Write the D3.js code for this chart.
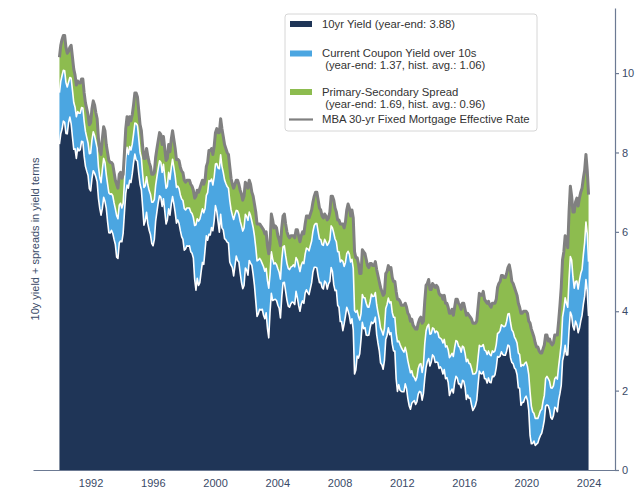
<!DOCTYPE html>
<html><head><meta charset="utf-8">
<script src="https://cdn.jsdelivr.net/npm/d3@7"></script>
<style>
body{margin:0;background:#fff}
svg{display:block}
text{font-family:"Liberation Sans",Arial,Helvetica,sans-serif}
</style>
</head><body>
<svg id="chart" width="640" height="498"></svg>
<script>
// ---- data (monthly, Jan 1990 .. Dec 2023) ----
const startYear = 1990, endYear = 2024;
const tenYear = [
8.21,8.47,8.59,8.79,8.76,8.48,8.47,8.75,8.89,8.72,8.39,8.08,
8.09,7.85,8.11,8.04,8.07,8.28,8.27,7.90,7.65,7.53,7.42,7.09,
7.03,7.34,7.54,7.48,7.39,7.26,6.84,6.59,6.42,6.59,6.87,6.77,
6.60,6.26,5.98,5.97,6.04,5.96,5.81,5.68,5.36,5.33,5.72,5.77,
5.75,5.97,6.48,6.97,7.18,7.10,7.30,7.24,7.46,7.74,7.96,7.81,
7.78,7.47,7.20,7.06,6.63,6.17,6.28,6.49,6.20,6.04,5.93,5.71,
5.65,5.81,6.27,6.51,6.74,6.91,6.87,6.64,6.83,6.53,6.20,6.30,
6.58,6.42,6.69,6.89,6.71,6.49,6.22,6.30,6.21,6.03,5.88,5.81,
5.54,5.57,5.65,5.64,5.65,5.50,5.46,5.34,4.81,4.53,4.83,4.65,
4.72,5.00,5.23,5.18,5.54,5.90,5.79,5.94,5.92,6.11,6.03,6.28,
6.66,6.52,6.26,5.99,6.44,6.10,6.05,5.83,5.80,5.74,5.72,5.24,
5.16,5.10,4.89,5.14,5.39,5.28,5.24,4.97,4.73,4.57,4.65,5.09,
5.04,4.91,5.28,5.21,5.16,4.93,4.65,4.26,3.87,3.94,4.05,4.03,
4.05,3.90,3.81,3.96,3.57,3.33,3.98,4.45,4.27,4.29,4.30,4.27,
4.15,4.08,3.83,4.35,4.72,4.73,4.50,4.28,4.13,4.10,4.19,4.23,
4.22,4.17,4.50,4.34,4.14,4.00,4.18,4.26,4.20,4.46,4.54,4.47,
4.42,4.57,4.72,4.99,5.11,5.11,5.09,4.88,4.72,4.73,4.60,4.56,
4.76,4.72,4.56,4.69,4.75,5.10,5.00,4.67,4.52,4.53,4.15,4.10,
3.74,3.74,3.51,3.68,3.88,4.10,4.01,3.89,3.69,3.81,3.53,2.42,
2.52,2.87,2.82,2.93,3.29,3.72,3.56,3.59,3.40,3.39,3.40,3.59,
3.73,3.69,3.73,3.85,3.42,3.20,3.01,2.70,2.65,2.54,2.76,3.29,
3.39,3.58,3.41,3.46,3.17,3.00,3.00,2.30,1.98,2.15,2.01,1.98,
1.97,1.97,2.17,2.05,1.80,1.62,1.53,1.68,1.72,1.75,1.65,1.72,
1.91,1.98,1.96,1.76,1.93,2.30,2.58,2.74,2.81,2.62,2.72,2.90,
2.86,2.71,2.72,2.71,2.56,2.60,2.54,2.42,2.53,2.30,2.33,2.21,
1.88,1.98,2.04,1.94,2.20,2.36,2.32,2.17,2.17,2.07,2.26,2.24,
2.09,1.78,1.89,1.81,1.81,1.64,1.50,1.56,1.63,1.76,2.14,2.49,
2.43,2.42,2.48,2.30,2.30,2.19,2.32,2.21,2.20,2.36,2.35,2.40,
2.58,2.86,2.84,2.87,2.98,2.91,2.89,2.89,3.00,3.15,3.12,2.83,
2.71,2.68,2.57,2.53,2.40,2.07,2.06,1.63,1.70,1.71,1.81,1.86,
1.76,1.50,0.87,0.66,0.67,0.73,0.62,0.65,0.68,0.79,0.87,0.93,
1.08,1.26,1.61,1.64,1.62,1.52,1.32,1.28,1.37,1.58,1.56,1.47,
1.76,1.93,2.13,2.75,2.90,3.14,2.90,2.90,3.52,3.98,3.89,3.62,
3.53,3.75,3.66,3.46,3.57,3.75,3.90,4.17,4.38,4.80,4.50,3.88
];
const ccSpread = [
1.30,1.32,1.35,1.28,1.30,1.28,1.18,1.02,1.00,1.15,1.18,1.18,
1.05,1.05,0.92,0.95,0.92,0.85,0.85,0.88,0.88,0.85,0.82,0.88,
0.95,0.98,0.98,0.95,0.88,0.86,0.80,0.78,0.82,0.98,0.98,0.98,
0.85,0.95,1.00,0.98,0.92,0.95,0.92,0.90,1.05,1.00,0.95,0.95,
0.85,0.75,0.78,0.88,0.95,0.85,0.85,0.82,0.75,0.72,0.78,0.92,
0.90,0.88,0.80,0.80,0.82,0.95,0.88,0.90,0.98,1.00,1.02,1.04,
1.10,1.00,0.90,0.88,0.86,0.88,0.88,0.86,0.87,0.87,0.90,0.85,
0.92,0.90,0.92,0.94,0.92,0.92,0.90,0.85,0.88,0.90,0.95,0.98,
1.05,0.98,0.95,0.96,0.95,1.00,1.00,1.02,1.35,1.65,1.50,1.62,
1.60,1.45,1.35,1.30,1.05,1.02,1.20,1.35,1.35,1.22,1.15,1.10,
1.05,1.20,1.35,1.60,1.50,1.55,1.45,1.48,1.42,1.40,1.38,1.55,
1.40,1.32,1.42,1.30,1.15,1.25,1.20,1.30,1.42,1.45,1.45,1.35,
1.35,1.38,1.22,1.20,1.10,1.18,1.25,1.35,1.40,1.35,1.28,1.25,
1.15,1.22,1.20,1.12,1.20,1.25,0.95,1.05,1.05,0.90,0.92,0.90,
0.92,0.90,0.98,0.95,0.90,0.92,0.90,0.92,0.95,0.95,0.92,0.90,
0.95,0.95,0.85,0.95,1.00,1.00,0.98,0.98,1.00,0.98,1.05,1.10,
1.10,1.08,1.05,1.02,1.05,1.10,1.12,1.12,1.10,1.08,1.08,1.10,
1.05,1.02,1.10,1.02,1.05,1.05,1.10,1.30,1.30,1.22,1.35,1.40,
1.50,1.55,1.75,1.45,1.35,1.35,1.50,1.55,1.55,1.50,1.55,1.60,
1.45,1.15,1.05,0.85,0.65,0.70,0.78,0.75,0.80,0.72,0.70,0.65,
0.70,0.68,0.65,0.62,0.75,0.78,0.80,0.88,0.85,0.86,0.80,0.78,
0.78,0.75,0.80,0.78,0.80,0.85,0.85,1.15,1.25,1.10,1.15,1.10,
1.05,1.00,0.92,0.90,0.95,0.98,0.92,0.82,0.65,0.58,0.60,0.62,
0.65,0.68,0.72,0.70,0.72,0.88,0.92,0.88,0.86,0.80,0.72,0.68,
0.70,0.75,0.78,0.76,0.78,0.72,0.75,0.78,0.76,0.80,0.80,0.82,
0.95,0.90,0.90,0.92,0.88,0.90,0.92,0.95,0.92,0.90,0.86,0.85,
0.85,0.95,0.90,0.88,0.86,0.92,0.92,0.86,0.80,0.74,0.68,0.65,
0.68,0.70,0.68,0.72,0.70,0.72,0.68,0.70,0.68,0.64,0.62,0.60,
0.58,0.58,0.62,0.65,0.68,0.72,0.72,0.74,0.75,0.78,0.82,0.88,
0.82,0.80,0.78,0.76,0.80,0.88,0.85,0.98,0.95,0.92,0.88,0.86,
0.85,0.90,1.10,0.95,0.80,0.70,0.68,0.65,0.62,0.60,0.62,0.60,
0.65,0.62,0.70,0.72,0.68,0.72,0.75,0.78,0.75,0.72,0.78,0.82,
0.85,0.95,1.05,1.10,1.15,1.20,1.30,1.20,1.30,1.40,1.40,1.25,
1.05,1.00,1.10,1.10,1.20,1.20,1.15,1.25,1.35,1.45,1.45,1.37
];
const psSpread = [
0.89,0.91,0.91,0.88,0.89,0.89,0.85,0.78,0.76,0.83,0.83,0.84,
0.81,0.80,0.77,0.76,0.76,0.72,0.73,0.72,0.72,0.72,0.71,0.73,
0.77,0.78,0.78,0.77,0.73,0.73,0.71,0.68,0.71,0.78,0.80,0.80,
0.75,0.79,0.82,0.80,0.79,0.79,0.77,0.72,0.79,0.77,0.78,0.78,
0.75,0.73,0.74,0.75,0.77,0.75,0.75,0.74,0.74,0.74,0.76,0.77,
0.72,0.70,0.70,0.69,0.70,0.73,0.69,0.71,0.72,0.71,0.70,0.70,
0.70,0.69,0.71,0.71,0.70,0.71,0.70,0.70,0.70,0.70,0.70,0.70,
0.70,0.70,0.72,0.72,0.70,0.70,0.70,0.68,0.70,0.70,0.70,0.70,
0.71,0.70,0.70,0.70,0.70,0.70,0.69,0.69,0.69,0.72,0.72,0.73,
0.78,0.75,0.72,0.72,0.71,0.73,0.76,0.76,0.78,0.77,0.77,0.77,
0.79,0.88,0.89,0.91,0.91,0.95,0.90,0.89,0.88,0.86,0.85,0.86,
0.79,0.78,0.79,0.76,0.76,0.77,0.76,0.78,0.80,0.78,0.80,0.81,
0.81,0.81,0.80,0.79,0.74,0.79,0.80,0.89,0.93,0.91,0.87,0.87,
0.90,0.93,0.94,0.92,0.88,0.87,0.77,0.95,0.98,0.91,0.93,0.93,
0.83,0.82,0.84,0.80,0.78,0.80,0.80,0.80,0.82,0.80,0.79,0.77,
0.73,0.73,0.70,0.76,0.76,0.75,0.74,0.76,0.75,0.76,0.81,0.83,
0.83,0.80,0.78,0.74,0.74,0.79,0.79,0.80,0.78,0.74,0.72,0.69,
0.64,0.66,0.64,0.64,0.70,0.75,0.80,0.83,0.78,0.75,0.80,0.80,
0.96,0.91,0.94,0.97,1.02,1.10,1.19,1.16,1.16,1.24,1.27,1.48,
1.38,1.33,1.33,1.17,1.01,1.13,1.16,1.11,1.10,1.04,1.00,0.96,
0.77,0.78,0.77,0.78,0.88,0.92,0.94,1.02,1.00,1.00,0.89,0.88,
0.83,0.82,0.84,0.86,0.88,0.90,0.90,1.05,1.07,1.05,1.09,1.07,
1.13,1.18,1.11,1.15,1.20,1.30,1.30,1.30,1.28,1.27,1.30,1.21,
1.14,1.14,1.17,1.24,1.10,1.07,1.15,1.08,1.13,1.13,1.11,1.12,
1.09,1.14,1.15,1.13,1.11,1.08,1.11,1.10,1.11,1.10,1.07,1.07,
1.12,1.07,1.11,1.04,1.02,1.04,1.06,1.08,1.06,1.08,1.08,1.11,
1.11,1.17,1.16,1.21,1.18,1.24,1.28,1.28,1.27,1.25,1.28,1.31,
1.29,1.28,1.34,1.28,1.25,1.29,1.25,1.24,1.22,1.20,1.23,1.20,
1.14,1.16,1.24,1.23,1.24,1.27,1.24,1.22,1.20,1.17,1.23,1.29,
1.22,1.22,1.25,1.21,1.20,1.25,1.19,1.34,1.30,1.37,1.31,1.28,
1.34,1.35,1.73,1.94,1.98,1.92,1.90,1.80,1.80,1.61,1.46,1.42,
1.32,1.27,1.09,1.04,0.95,1.06,1.13,1.09,1.08,1.10,1.06,1.11,
1.14,1.27,1.42,1.45,1.45,1.56,1.60,1.50,1.68,1.77,1.61,1.63,
1.92,2.00,2.09,2.09,2.08,2.05,2.05,1.93,1.82,1.70,1.60,1.69
];
const xTicks = [1992, 1996, 2000, 2004, 2008, 2012, 2016, 2020, 2024];
const yTicks = [0, 2, 4, 6, 8, 10];
const seriesNames = ["ten", "cc", "ps"];
const legendLabels = [
  ["10yr Yield (year-end: 3.88)"],
  ["Current Coupon Yield over 10s", " (year-end: 1.37, hist. avg.: 1.06)"],
  ["Primary-Secondary Spread", " (year-end: 1.69, hist. avg.: 0.96)"],
  ["MBA 30-yr Fixed Mortgage Effective Rate"]
];
const yLabel = "10y yield + spreads in yield terms";

// ---- style ----
const colors = ["#1f3557", "#4ba6e1", "#8dbc4f"];
const lineColor = "#808080";
const axisColor = "#6c7a93";
const textColor = "#3a4a67";

const svg = d3.select("#chart");
const L = 33, R = 615, T = 8, B = 470;
const x = d3.scaleLinear().domain([1988.3, 2025.7]).range([L, R]);
const y = d3.scaleLinear().domain([0, 11.64]).range([B, T]);

const n = tenYear.length;
const rows = tenYear.map((v, i) => ({
  yr: startYear + i * (endYear - startYear) / (n - 1),
  ten: v, cc: ccSpread[i], ps: psSpread[i]
}));
const stacked = d3.stack().keys(seriesNames)(rows);

const area = d3.area().x(d => x(d.data.yr)).y0(d => y(d[0])).y1(d => y(d[1]));
const topLine = d3.line().x(d => x(d.data.yr)).y(d => y(d[1]));

svg.append("g").selectAll("path").data(stacked).join("path")
  .attr("fill", (d, i) => colors[i]).attr("d", area);

// white separators between layers
svg.append("g").selectAll("path").data(stacked.slice(0, 2)).join("path")
  .attr("fill", "none").attr("stroke", "#fff").attr("stroke-width", 1.6)
  .attr("stroke-linejoin", "round").attr("d", topLine);

// mortgage rate line (sum of the stack)
svg.append("path").datum(stacked[2])
  .attr("fill", "none").attr("stroke", lineColor).attr("stroke-width", 3)
  .attr("stroke-linejoin", "round").attr("d", topLine);

// x axis
const xAxis = svg.append("g").attr("transform", `translate(0,${B})`)
  .call(d3.axisBottom(x).tickValues(xTicks).tickFormat(d3.format("d"))
    .tickSize(0).tickSizeOuter(0).tickPadding(9));
xAxis.select(".domain").attr("stroke", axisColor).attr("stroke-width", 1.2);
xAxis.selectAll("text").attr("fill", textColor).attr("font-size", 11)
  .attr("font-family", "Liberation Sans, Arial, sans-serif");

// y axis (right)
const yAxis = svg.append("g").attr("transform", `translate(${R},0)`)
  .call(d3.axisRight(y).tickValues(yTicks).tickSize(4).tickSizeOuter(0).tickPadding(3));
yAxis.select(".domain").attr("stroke", axisColor).attr("stroke-width", 1.2);
yAxis.selectAll(".tick line").attr("stroke", axisColor).attr("stroke-width", 1.2);
yAxis.selectAll("text").attr("fill", textColor).attr("font-size", 11)
  .attr("font-family", "Liberation Sans, Arial, sans-serif");

// y label
svg.append("text").attr("transform", `translate(39,${(T + B) / 2}) rotate(-90)`)
  .attr("text-anchor", "middle").attr("fill", textColor).attr("font-size", 11)
  .text(yLabel);

// legend
const lg = svg.append("g");
lg.append("rect").attr("x", 285).attr("y", 14).attr("width", 252).attr("height", 117)
  .attr("rx", 3).attr("fill", "#fff").attr("fill-opacity", 0.9)
  .attr("stroke", "#d6d6d6").attr("stroke-width", 1);
const rowY = [[24], [53.5, 65], [92, 104.5], [119.5]];
legendLabels.forEach((lines, i) => {
  if (i < 3) {
    lg.append("rect").attr("x", 290).attr("y", rowY[i][0] - 3).attr("width", 22).attr("height", 6)
      .attr("fill", colors[i]);
  } else {
    lg.append("line").attr("x1", 289).attr("x2", 313).attr("y1", rowY[i][0]).attr("y2", rowY[i][0])
      .attr("stroke", lineColor).attr("stroke-width", 2.2);
  }
  lines.forEach((t, j) => {
    lg.append("text").attr("x", 322).attr("y", rowY[i][j]).attr("dy", "0.35em")
      .attr("font-size", 11.3).attr("fill", "#333").attr("xml:space", "preserve")
      .style("white-space", "pre").text(t);
  });
});
</script>
</body></html>
